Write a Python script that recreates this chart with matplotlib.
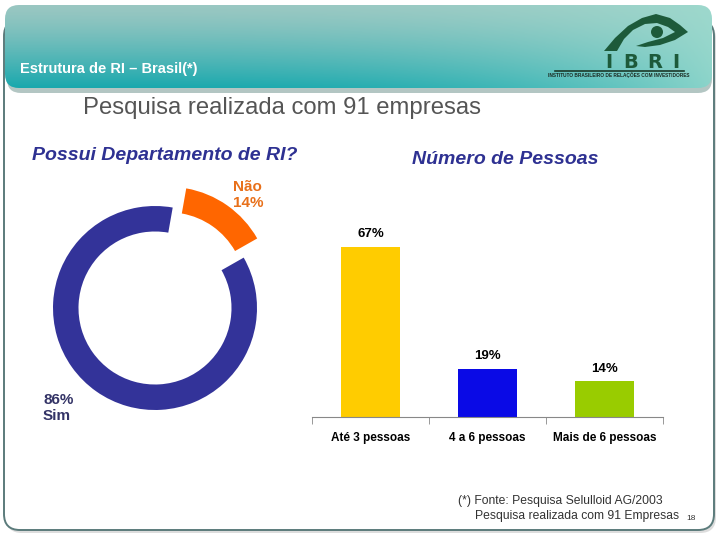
import numpy as np
import matplotlib
matplotlib.use('Agg')
import matplotlib.pyplot as plt
from matplotlib.patches import FancyBboxPatch, Polygon, Circle

# data
donut_labels = ['Sim', 'Não']
donut_values = [86, 14]
bar_categories = ['Até 3 pessoas', '4 a 6 pessoas', 'Mais de 6 pessoas']
bar_values = [67, 19, 14]

plt.rcParams['font.family'] = ['Liberation Sans', 'DejaVu Sans']

W, H = 720, 540
fig = plt.figure(figsize=(7.2, 5.4), dpi=100)
fig.patch.set_facecolor('white')

# overlay in pixel coordinates for the slide decoration
deco = fig.add_axes([0, 0, 1, 1])
deco.set_xlim(0, W)
deco.set_ylim(H, 0)
deco.axis('off')

# page frame
shadow = FancyBboxPatch((6, 23), 710, 510, boxstyle='round,pad=0,rounding_size=16',
                        fc='#dddddd', ec='none', zorder=0.5)
deco.add_patch(shadow)
frame = FancyBboxPatch((4, 20), 710, 510, boxstyle='round,pad=0,rounding_size=16',
                       fc='white', ec='#5b7b7b', lw=1.4, zorder=1)
deco.add_patch(frame)

# banner with gradient
ny, nx = 60, 200
ty = np.linspace(0, 1, ny)[:, None]
tx = np.linspace(0, 1, nx)[None, :]
top = np.array([0.60, 0.78, 0.76])
bot = np.array([0.10, 0.66, 0.68])
light = np.array([0.62, 0.86, 0.81])
base = top[None, None, :] * (1 - ty[..., None] ** 1.3) + bot[None, None, :] * ty[..., None] ** 1.3
wgt = (tx ** 3)[..., None] * 0.85
img = base * (1 - wgt) + light[None, None, :] * wgt
banner_shadow = FancyBboxPatch((7, 9), 705, 84, boxstyle='round,pad=0,rounding_size=14',
                               fc='#b3c6c3', ec='none', zorder=2)
deco.add_patch(banner_shadow)
banner = FancyBboxPatch((5, 5), 707, 83, boxstyle='round,pad=0,rounding_size=14',
                        fc='none', ec='none', zorder=3)
deco.add_patch(banner)
im = deco.imshow(img, extent=(5, 712, 88, 5), aspect='auto', zorder=3)
im.set_clip_path(banner)
deco.set_xlim(0, W)
deco.set_ylim(H, 0)

deco.text(20, 69, 'Estrutura de RI \u2013 Brasil(*)', color='white', fontsize=10.5,
          fontweight='bold', va='center', ha='left', zorder=5)

# IBRI logo
green = '#1d5a3a'
eye = [(604, 51), (615, 38), (628, 26), (642, 18), (656, 14), (670, 18), (680, 25),
       (688, 32), (675, 40), (660, 45), (645, 47), (636, 46), (648, 42), (663, 38),
       (675, 32), (668, 27), (657, 23), (645, 24), (633, 30), (624, 39), (617, 51)]
deco.add_patch(Polygon(eye, closed=True, fc=green, ec='none', zorder=5))
deco.add_patch(Circle((657, 32), 6, fc=green, ec='none', zorder=5))
for ch, x in zip('IBRI', [608.5, 631, 655, 676]):
    deco.text(x, 62, ch, color=green, fontsize=14, fontweight='bold', ha='center',
              va='center', family=['DejaVu Sans'], zorder=5)
deco.plot([555, 684], [71, 71], color='#1a3a2a', lw=1.2, zorder=5)
deco.text(619, 75.5, 'INSTITUTO BRASILEIRO DE RELAÇÕES COM INVESTIDORES', fontsize=3.4,
          fontweight='bold', color='#1a2a22', ha='center', va='center', zorder=5)

# subtitle and footer
deco.text(83, 108, 'Pesquisa realizada com 91 empresas', color='#555555', fontsize=17.2,
          va='center', ha='left', zorder=5)
deco.text(458, 501, '(*) Fonte: Pesquisa Selulloid AG/2003', color='#333333', fontsize=8.7,
          va='center', ha='left', zorder=5)
deco.text(475, 516, 'Pesquisa realizada com 91 Empresas', color='#333333', fontsize=8.7,
          va='center', ha='left', zorder=5)
deco.text(686, 518, '18', color='#333333', fontsize=6, va='center', ha='left', zorder=5)

# chart titles
navy = '#2e3192'
deco.text(32, 156, 'Possui Departamento de RI?', color=navy, fontsize=14, fontweight='bold',
          fontstyle='italic', va='center', ha='left', zorder=5)
deco.text(505, 160, 'Número de Pessoas', color=navy, fontsize=14, fontweight='bold',
          fontstyle='italic', va='center', ha='center', zorder=5)

# donut
cx, cy, r = 155, 308, 102
lim = 1.3
ax1 = fig.add_axes([(cx - lim * r) / W, (H - cy - lim * r) / H, 2 * lim * r / W, 2 * lim * r / H])
ax1.pie(donut_values, colors=['#333399', '#ff6600'], startangle=80, counterclock=True,
        explode=[0, 0.23], radius=1, wedgeprops=dict(width=0.25, edgecolor='none'))
ax1.set_xlim(-lim, lim)
ax1.set_ylim(-lim, lim)
ax1.set_aspect('equal')
ax1.axis('off')
ax1.patch.set_alpha(0)

deco.text(233, 195, '%s\n%d%%' % (donut_labels[1], donut_values[1]), color='#e8701a',
          fontsize=11, fontweight='bold', ha='left', va='center', linespacing=1.1, zorder=5)
deco.text(43, 408, '%d%%\n%s' % (donut_values[0], donut_labels[0]), color='#333366',
          fontsize=11, fontweight='bold', ha='left', va='center', linespacing=1.1, zorder=5)

# bars
bx0, bx1, by0, by1 = 312, 663, 417, 220
ax2 = fig.add_axes([bx0 / W, (H - by0) / H, (bx1 - bx0) / W, (by0 - by1) / H])
xs = np.arange(len(bar_categories))
ax2.bar(xs, bar_values, width=0.5, color=['#ffcc00', '#0a0ae6', '#99cc00'])
ax2.set_xlim(-0.5, len(bar_categories) - 0.5)
ax2.set_ylim(0, (by0 - by1) / 2.54)
for x, v in zip(xs, bar_values):
    ax2.text(x, v + 2.5, '%d%%' % v, ha='center', va='bottom', fontsize=9.5,
             fontweight='bold')
for s in ['top', 'right', 'left']:
    ax2.spines[s].set_visible(False)
ax2.spines['bottom'].set_color('#888888')
ax2.set_yticks([])
ax2.set_xticks(xs)
ax2.set_xticklabels(bar_categories, fontsize=8.5, fontweight='bold')
ax2.tick_params(axis='x', which='major', length=0, pad=11)
ax2.set_xticks(np.arange(len(bar_categories) + 1) - 0.5, minor=True)
ax2.tick_params(axis='x', which='minor', length=5, color='#888888')
ax2.patch.set_alpha(0)

fig.savefig('out.png', dpi=100)
